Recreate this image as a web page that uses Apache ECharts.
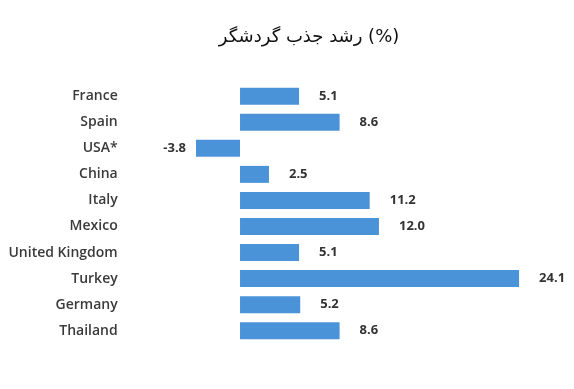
<!DOCTYPE html>
<html><head><meta charset="utf-8">
<script src="https://cdn.jsdelivr.net/npm/echarts@6/dist/echarts.min.js"></script>
<style>html,body{margin:0;padding:0;background:#fff}#c{width:574px;height:389px}</style>
</head><body><div id="c"></div>
<script>
const titleText = 'رشد جذب گردشگر (%)';
const categories = ['France','Spain','USA*','China','Italy','Mexico','United Kingdom','Turkey','Germany','Thailand'];
const values = [5.1, 8.6, -3.8, 2.5, 11.2, 12.0, 5.1, 24.1, 5.2, 8.6];

const chart = echarts.init(document.getElementById('c'));
chart.setOption({
  animation: false,
  backgroundColor: '#fff',
  title: {
    text: titleText, left: 304, top: 23, textAlign: 'center',
    textStyle: {fontFamily: 'DejaVu Sans', fontSize: 18, fontWeight: 'normal', color: '#111'}
  },
  grid: {left: 193.7, right: 574 - 529.5, top: 83.2, bottom: 389 - 343.7, containLabel: false},
  xAxis: {type: 'value', min: -4, max: 25, show: false},
  yAxis: {
    type: 'category', data: categories, inverse: true,
    axisLine: {show: false}, axisTick: {show: false}, splitLine: {show: false},
    axisLabel: {margin: 76, fontFamily: 'Open Sans', fontWeight: 600, fontSize: 14, color: '#3a3a3a'}
  },
  series: [{
    type: 'bar', barWidth: 17,
    itemStyle: {color: '#4b93d8'},
    data: values.map(v => ({
      value: v,
      label: {show: true, position: v < 0 ? 'left' : 'right', distance: v < 0 ? 10 : 20,
        formatter: p => p.value.toFixed(1),
        fontFamily: 'Open Sans', fontWeight: 'bold', fontSize: 13, color: '#333'}
    }))
  }]
});
</script></body></html>
